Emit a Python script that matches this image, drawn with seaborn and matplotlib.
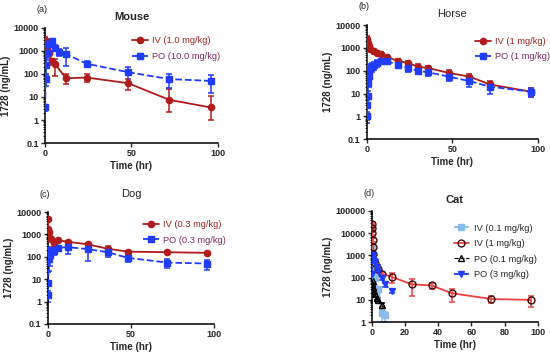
import matplotlib
matplotlib.use("Agg")
import matplotlib.pyplot as plt
import numpy as np
import pandas as pd
import seaborn as sns

# ---- data ----
mouse_iv_t = [0.083, 0.25, 0.5, 1, 2, 4, 6, 12, 24, 48, 72, 96]
mouse_iv_y = [3000, 2200, 1800, 1200, 800, 350, 260, 65, 70, 40, 7.5, 3.5]
mouse_iv_sd = [1000, 800, 500, 400, 200, 100, 200, 30, 25, 20, 15, 8]
mouse_po_t = [0.083, 0.25, 0.5, 1, 2, 4, 6, 8, 12, 24, 48, 72, 96]
mouse_po_y = [3.5, 60, 250, 800, 2000, 2600, 1400, 900, 750, 280, 120, 60, 50]
mouse_po_sd = [1, 30, 150, 300, 500, 500, 400, 300, 600, 80, 90, 35, 40]

horse_iv_t = [0, 0.083, 0.25, 0.5, 0.75, 1, 1.5, 2, 4, 6, 8, 12, 18, 24, 30, 36, 48, 60, 72, 96]
horse_iv_y = [1, 2500, 2000, 1600, 1300, 1200, 1000, 900, 700, 600, 550, 400, 270, 220, 150, 130, 80, 55, 25, 12]
horse_iv_sd = [0.3, 800, 600, 400, 300, 300, 200, 200, 150, 120, 100, 80, 60, 60, 40, 35, 30, 20, 10, 5]
horse_po_t = [0, 0.25, 0.5, 0.75, 1, 1.5, 2, 3, 4, 6, 8, 12, 18, 24, 30, 36, 48, 60, 72, 96]
horse_po_y = [1, 3, 8, 30, 60, 100, 130, 150, 170, 220, 280, 260, 180, 130, 100, 85, 55, 35, 20, 12]
horse_po_sd = [0.5, 2, 5, 20, 40, 60, 70, 60, 60, 70, 60, 60, 50, 40, 30, 25, 20, 15, 10, 5]

dog_iv_t = [0.083, 0.25, 0.5, 1, 2, 4, 6, 12, 24, 36, 48, 72, 96]
dog_iv_y = [5000, 1700, 1300, 700, 600, 420, 550, 470, 360, 230, 170, 160, 150]
dog_iv_sd = [500, 300, 200, 100, 80, 60, 60, 50, 40, 80, 20, 15, 15]
dog_po_t = [0.083, 0.25, 0.5, 1, 1.5, 2, 4, 6, 12, 24, 36, 48, 72, 96]
dog_po_y = [2, 7, 80, 120, 150, 200, 180, 250, 270, 220, 160, 90, 55, 50]
dog_po_sd = [1, 15, 100, 80, 60, 80, 60, 60, 130, 160, 60, 30, 25, 25]

cat_iv01_t = [0.083, 0.25, 0.5, 1, 2, 4, 6, 8]
cat_iv01_y = [2500, 1000, 600, 300, 100, 30, 2.5, 2]
cat_iv01_sd = [300, 200, 100, 80, 30, 10, 1.5, 1]
cat_iv1_t = [0.083, 0.167, 0.25, 0.5, 0.75, 1, 2, 4, 6, 12, 24, 36, 48, 72, 96]
cat_iv1_y = [27000, 17000, 10000, 5000, 2500, 1200, 450, 250, 150, 110, 50, 45, 20, 11, 10]
cat_iv1_sd = [3000, 2000, 1500, 800, 400, 200, 80, 50, 30, 50, 35, 15, 12, 4, 5]
cat_po01_t = [0.25, 0.5, 1, 1.5, 2, 3, 4, 6]
cat_po01_y = [50, 70, 40, 25, 18, 12, 10, 6]
cat_po01_sd = [10, 15, 8, 5, 4, 2, 2, 1]
cat_po3_t = [0.25, 0.5, 1, 1.5, 2, 3, 4, 6, 8, 12]
cat_po3_y = [150, 1000, 700, 550, 500, 300, 200, 100, 50, 25]
cat_po3_sd = [80, 300, 200, 150, 100, 60, 40, 20, 10, 5]

RED = "#b01c1c"
BLUE = "#1f3cff"
IV_TXT = "#9b2222"
PO_TXT = "#7a2860"

sns.set_style("ticks")
plt.rcParams["font.family"] = ["Liberation Sans", "DejaVu Sans"]

fig = plt.figure(figsize=(5.5, 3.54), dpi=100)


def draw_series(ax, t, y, sd, label, color, marker, ls, ms=4.5, mfc=None, mec=None, lw=1.3):
    df = pd.DataFrame({"t": t, "y": y})
    y = np.array(y, dtype=float)
    sd = np.array(sd, dtype=float)
    lower = np.minimum(sd, y * 0.7)
    ax.errorbar(t, y, yerr=[lower, sd], fmt="none", ecolor=color, elinewidth=1.1,
                capsize=2.2, capthick=1.1, zorder=2)
    sns.lineplot(data=df, x="t", y="y", ax=ax, color=color, linestyle=ls, linewidth=lw,
                 marker=marker, markersize=ms, markerfacecolor=mfc if mfc else color,
                 markeredgecolor=mec if mec else color, markeredgewidth=1.0,
                 label=label, zorder=3, legend=False)


def style_axes(ax, title, tag, ylim, xticks, bold_title=True, title_pad=6):
    ax.set_yscale("log")
    ax.set_ylim(*ylim)
    ax.set_xlim(0, xticks[-1])
    ax.set_xticks(xticks)
    ax.set_title(title, fontsize=8, fontweight="bold" if bold_title else "normal", pad=title_pad)
    ax.set_xlabel("Time (hr)", fontsize=7, fontweight="bold", labelpad=2)
    ax.set_ylabel("1728 (ng/mL)", fontsize=7, fontweight="bold", labelpad=2)
    ax.tick_params(axis="both", labelsize=6.5, width=1, length=3, pad=1.5)
    ax.tick_params(axis="y", which="minor", length=1.5, width=0.7)
    for lab in ax.get_xticklabels() + ax.get_yticklabels():
        lab.set_fontweight("bold")
    decs = [10.0 ** k for k in range(int(np.log10(ylim[0])), int(np.log10(ylim[1])) + 1)]
    ax.set_yticks(decs)
    ax.set_yticklabels([("%g" % d) if d < 1 else str(int(d)) for d in decs],
                       fontweight="bold", fontsize=6.5)
    sns.despine(ax=ax)
    for sp in ("left", "bottom"):
        ax.spines[sp].set_linewidth(1.1)
        ax.spines[sp].set_color("black")
    ax.text(-0.05, 1.12, tag, transform=ax.transAxes, fontsize=6.5, ha="left", va="bottom")


def add_legend(ax, x, y, colors=None):
    leg = ax.legend(loc="upper left", bbox_to_anchor=(x, y), frameon=False, fontsize=6.7,
                    handlelength=1.7, handletextpad=0.5, labelspacing=0.7, borderaxespad=0)
    if colors:
        for txt, c in zip(leg.get_texts(), colors):
            txt.set_color(c)


# (a) Mouse
ax = fig.add_axes([0.082, 0.596, 0.314, 0.325])
draw_series(ax, mouse_iv_t, mouse_iv_y, mouse_iv_sd, "IV (1.0 mg/kg)", RED, "o", "-")
draw_series(ax, mouse_po_t, mouse_po_y, mouse_po_sd, "PO (10.0 mg/kg)", BLUE, "s", "--")
style_axes(ax, "Mouse", "(a)", (0.1, 10000), [0, 50, 100])
add_legend(ax, 0.48, 0.96, [IV_TXT, PO_TXT])

# (b) Horse
ax = fig.add_axes([0.667, 0.607, 0.311, 0.322])
draw_series(ax, horse_iv_t, horse_iv_y, horse_iv_sd, "IV (1 mg/kg)", RED, "o", "-")
draw_series(ax, horse_po_t, horse_po_y, horse_po_sd, "PO (1 mg/kg)", BLUE, "s", "--")
style_axes(ax, "Horse", "(b)", (0.1, 10000), [0, 50, 100], bold_title=False)
add_legend(ax, 0.61, 0.93, [IV_TXT, PO_TXT])

# (c) Dog
ax = fig.add_axes([0.087, 0.085, 0.302, 0.316])
draw_series(ax, dog_iv_t, dog_iv_y, dog_iv_sd, "IV (0.3 mg/kg)", RED, "o", "-")
draw_series(ax, dog_po_t, dog_po_y, dog_po_sd, "PO (0.3 mg/kg)", BLUE, "s", "--")
style_axes(ax, "Dog", "(c)", (0.1, 10000), [0, 50, 100], bold_title=False, title_pad=11)
add_legend(ax, 0.55, 0.96, [IV_TXT, PO_TXT])

# (d) Cat
ax = fig.add_axes([0.676, 0.090, 0.302, 0.314])
draw_series(ax, cat_iv01_t, cat_iv01_y, cat_iv01_sd, "IV (0.1 mg/kg)", "#8cbbea", "s", "--", ms=4)
draw_series(ax, cat_iv1_t, cat_iv1_y, cat_iv1_sd, "IV (1 mg/kg)", "#f04040", "o", "-", ms=5,
            mfc="none", mec="#3a0a0a")
draw_series(ax, cat_po01_t, cat_po01_y, cat_po01_sd, "PO (0.1 mg/kg)", "black", "^", "--", ms=4.5,
            mfc="none", mec="black", lw=0.8)
draw_series(ax, cat_po3_t, cat_po3_y, cat_po3_sd, "PO (3 mg/kg)", BLUE, "v", "--", ms=4.5)
style_axes(ax, "Cat", "(d)", (1, 100000), [0, 20, 40, 60, 80, 100])
add_legend(ax, 0.47, 0.92)

fig.savefig("out.png", dpi=100)
